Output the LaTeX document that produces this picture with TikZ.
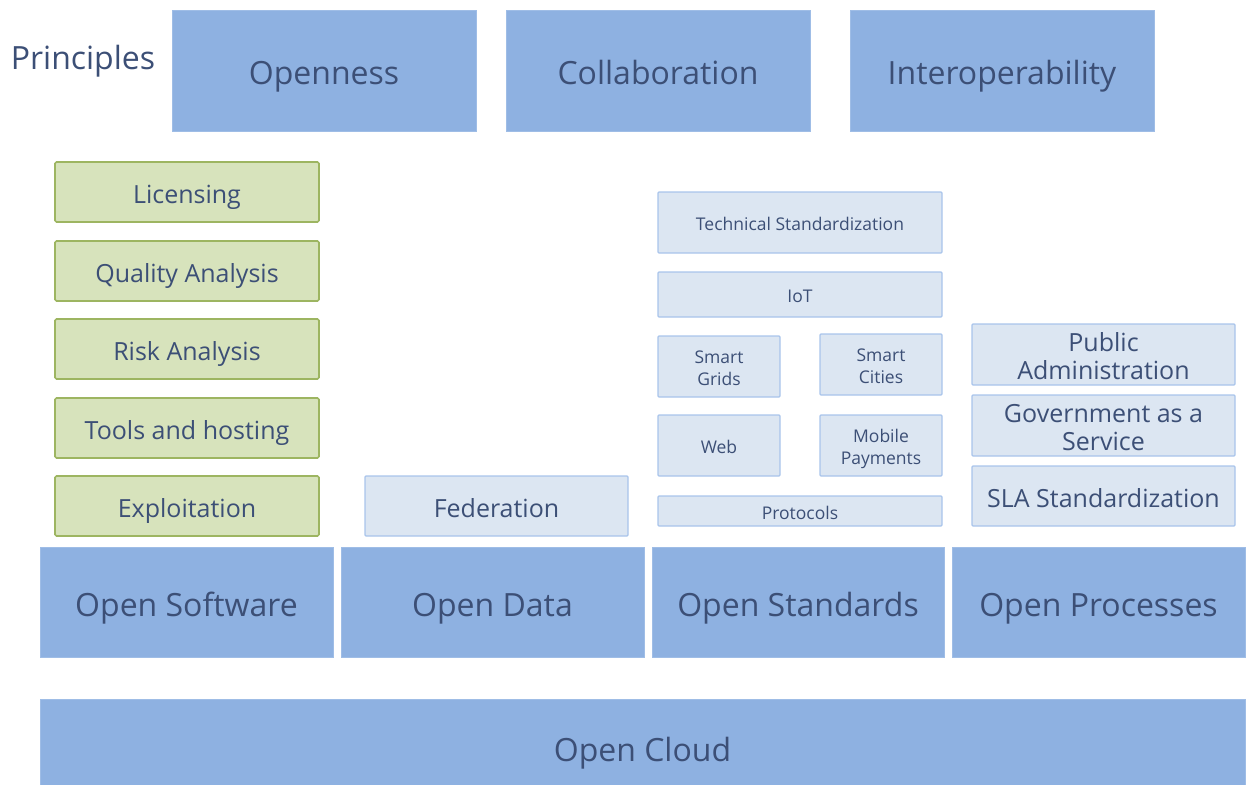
\documentclass[tikz,border=0pt]{standalone}
\usepackage{fontspec}
\setmainfont{Open Sans}
\definecolor{bigfill}{HTML}{8EB1E1}
\definecolor{txt}{HTML}{3C4F76}
\definecolor{grfill}{HTML}{D7E3BC}
\definecolor{grline}{HTML}{9DB561}
\definecolor{ltfill}{HTML}{DCE6F2}
\definecolor{ltline}{HTML}{A9C4EB}
\tikzset{
  base/.style={rectangle, inner sep=0pt, align=center, text=txt},
  bigfont/.style={font=\fontsize{32}{36}\selectfont, text height=30pt, text depth=2pt},
  midfont/.style={font=\fontsize{25}{28}\selectfont, text height=24pt, text depth=2pt},
  smallfont/.style={font=\fontsize{17.5}{21.5}\selectfont, text height=17pt, text depth=0.6pt},
  bigbox/.style={base, bigfont, fill=bigfill, draw=bigfill!85!white, line width=0.8pt},
  greenbox/.style={base, midfont, fill=grfill, draw=grline, line width=1.6pt, rounded corners=1.5pt},
  lightbox/.style={base, midfont, fill=ltfill, draw=ltline, line width=1.3pt, rounded corners=1pt},
  lightbox2/.style={lightbox, text height=52pt},
  smallbox/.style={base, smallfont, fill=ltfill, draw=ltline, line width=1.3pt, rounded corners=1pt},
  smallbox2/.style={smallbox, text height=38.5pt},
}
\newcommand{\bx}[7]{\node[#2, minimum width={(#5-#3)*1pt}, minimum height={(#6-#4)*1pt}] (#1) at ({(#3+#5)/2},{(#4+#6)/2}) {#7};}
\begin{document}
\begin{tikzpicture}[x=1pt,y=-1pt]
\useasboundingbox (0,0) rectangle (1246,784);
\node[base, bigfont] (principles) at (83,56) {Principles};
\bx{openness}{bigbox}{172}{10}{476}{131}{Openness}
\bx{collab}{bigbox}{506}{10}{810}{131}{Collaboration}
\bx{interop}{bigbox}{850}{10}{1154}{131}{Interoperability}
% green
\bx{lic}{greenbox}{55}{162}{319}{222}{Licensing}
\bx{qa}{greenbox}{55}{241}{319}{301}{Quality Analysis}
\bx{risk}{greenbox}{55}{319}{319}{379}{Risk Analysis}
\bx{tools}{greenbox}{55}{398}{319}{458}{Tools and hosting}
\bx{expl}{greenbox}{55}{476}{319}{536}{Exploitation}
% data
\bx{fed}{lightbox}{365}{476}{628}{536}{Federation}
% standards
\bx{tech}{smallbox}{658}{192}{942}{253}{Technical Standardization}
\bx{iot}{smallbox}{658}{272}{942}{317}{IoT}
\bx{grids}{smallbox2}{658}{336}{780}{397}{Smart\\Grids}
\bx{cities}{smallbox2}{820}{334}{942}{395}{Smart\\Cities}
\bx{web}{smallbox}{658}{415}{780}{476}{Web}
\bx{mobile}{smallbox2}{820}{415}{942}{476}{Mobile\\Payments}
\bx{proto}{smallbox}{658}{496}{942}{526}{Protocols}
% processes
\bx{pubadm}{lightbox2}{972}{324}{1235}{385}{Public\\Administration}
\bx{gaas}{lightbox2}{972}{395}{1235}{456}{Government as a\\Service}
\bx{sla}{lightbox}{972}{466}{1235}{526}{SLA Standardization}
% open layer
\bx{osw}{bigbox}{40}{547}{333}{657}{Open Software}
\bx{odata}{bigbox}{341}{547}{644}{657}{Open Data}
\bx{ostd}{bigbox}{652}{547}{944}{657}{Open Standards}
\bx{oproc}{bigbox}{952}{547}{1245}{657}{Open Processes}
% cloud
\bx{cloud}{bigbox}{40}{699}{1245}{796}{Open Cloud}
\end{tikzpicture}
\end{document}
